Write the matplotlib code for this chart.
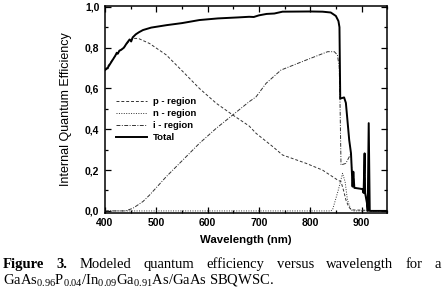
import matplotlib
matplotlib.use('Agg')
import matplotlib.pyplot as plt
from matplotlib.ticker import MultipleLocator, FuncFormatter

plt.rcParams['font.family'] = 'Liberation Sans'
plt.rcParams['mathtext.fontset'] = 'custom'
plt.rcParams['mathtext.rm'] = 'Liberation Serif'

# values
total_x = [400, 405, 410, 415, 420, 423, 425, 428, 432, 437, 442, 448, 451, 454, 460, 466, 474,
           490, 520, 550, 584, 620, 660, 681, 690, 700, 715, 730, 746, 800, 824, 840, 850, 855,
           857, 858.5, 862, 866, 869.5, 876, 879.5, 882.5, 884, 886, 902, 904, 906, 907, 910.5,
           912, 914, 916, 950]
total_y = [0.69, 0.70, 0.72, 0.74, 0.76, 0.775, 0.77, 0.785, 0.79, 0.80, 0.82, 0.84, 0.83, 0.85,
           0.865, 0.875, 0.886, 0.898, 0.91, 0.92, 0.935, 0.943, 0.948, 0.951, 0.95, 0.958, 0.965,
           0.967, 0.976, 0.977, 0.976, 0.972, 0.955, 0.93, 0.90, 0.55, 0.553, 0.556, 0.529, 0.347,
           0.282, 0.119, 0.192, 0.113, 0.107, 0.088, 0.282, 0.088, 0.039, 0.0, 0.43, 0.0, 0.0]

p_x = [400, 420, 440, 448, 454, 465, 487, 519.5, 552, 584, 617, 649, 681, 694.5, 727, 746, 792,
       824, 853, 860, 865, 869.5, 875, 880, 950]
p_y = [0.69, 0.76, 0.81, 0.835, 0.845, 0.845, 0.82, 0.764, 0.682, 0.60, 0.527, 0.47, 0.416, 0.38,
       0.315, 0.274, 0.233, 0.20, 0.152, 0.143, 0.10, 0.054, 0.02, 0.005, 0.0]

n_x = [400, 840, 843.5, 853, 856.5, 863, 868, 872.5, 879.5, 885, 950]
n_y = [0.0, 0.0, 0.005, 0.087, 0.119, 0.184, 0.143, 0.054, 0.005, 0.0, 0.0]

i_x = [400, 440, 454.5, 474, 487, 519.5, 552, 584, 617, 649, 681, 694.5, 714, 743, 792, 834, 847,
       853, 856.5, 858, 860, 869.5, 879.5, 882.5, 884, 886, 902, 904, 906, 907, 910.5, 912, 916, 950]
i_y = [0.0, 0.0, 0.013, 0.046, 0.078, 0.168, 0.25, 0.331, 0.405, 0.47, 0.535, 0.559, 0.625, 0.69,
       0.739, 0.78, 0.78, 0.764, 0.706, 0.543, 0.225, 0.233, 0.282, 0.119, 0.192, 0.113, 0.107,
       0.088, 0.282, 0.088, 0.039, 0.0, 0.0, 0.0]

caption_words = ['Figure', '3.', 'Modeled', 'quantum', 'efficiency', 'versus', 'wavelength', 'for', 'a']
caption_line2 = (r'GaAs$_{\mathregular{0.96}}$P$_{\mathregular{0.04}}$/In$_{\mathregular{0.09}}$'
                 r'Ga$_{\mathregular{0.91}}$As/GaAs SBQWSC.')

W, H = 443, 288
fig = plt.figure(figsize=(W / 100, H / 100), dpi=100)
ax = fig.add_axes([0.237, 0.262, 0.637, 0.718])

thin = '#333333'
ax.plot(p_x, p_y, color=thin, lw=0.7, dashes=(3, 2), label='p - region')
ax.plot(n_x, n_y, color=thin, lw=0.7, dashes=(1, 1.5), label='n - region')
ax.plot(i_x, i_y, color=thin, lw=0.7, dashes=(4, 1.5, 1, 1.5), label='i - region')
ax.plot(total_x, total_y, color='black', lw=1.4, label='Total')

ax.set_xlim(400, 950)
ax.set_ylim(-0.008, 1.005)
ax.xaxis.set_major_locator(MultipleLocator(100))
ax.xaxis.set_minor_locator(MultipleLocator(50))
ax.yaxis.set_major_locator(MultipleLocator(0.2))
ax.yaxis.set_minor_locator(MultipleLocator(0.1))
ax.yaxis.set_major_formatter(FuncFormatter(lambda v, pos: f'{v:.1f}'.replace('.', ',')))
ax.tick_params(which='both', direction='in', top=True, right=True, width=0.9)
ax.tick_params(which='major', length=4, labelsize=7.5, pad=4)
ax.tick_params(which='minor', length=2)
for lab in ax.get_xticklabels() + ax.get_yticklabels():
    lab.set_fontweight('bold')
for s in ax.spines.values():
    s.set_linewidth(1.1)

ax.set_xlabel('Wavelength (nm)', fontsize=8.2, fontweight='bold', labelpad=5)
ax.set_ylabel('Internal Quantum Efficiency', fontsize=9, labelpad=9)

ax.legend(loc='upper left', bbox_to_anchor=(0.025, 0.575), frameon=False,
          prop={'size': 6.8, 'weight': 'bold'}, handlelength=3.3, handletextpad=0.6,
          labelspacing=0.3, borderaxespad=0)

# caption: first line justified across the full width
serif = 'Liberation Serif'
cap = 10.5
y1 = 1 - 268 / H
texts = []
for k, w in enumerate(caption_words):
    weight = 'bold' if k < 2 else 'normal'
    texts.append(fig.text(0, y1, w, family=serif, fontweight=weight, fontsize=cap, va='baseline'))
renderer = fig.canvas.get_renderer()
widths = [t.get_window_extent(renderer).width for t in texts]
left, right = 3, 441
gap = (right - left - sum(widths)) / (len(texts) - 1)
x = left
for t, w in zip(texts, widths):
    t.set_x(x / W)
    x += w + gap

fig.text(3 / W, 1 - 284.5 / H, caption_line2, family=serif, fontsize=cap, va='baseline')

fig.savefig('out.png', dpi=100)
